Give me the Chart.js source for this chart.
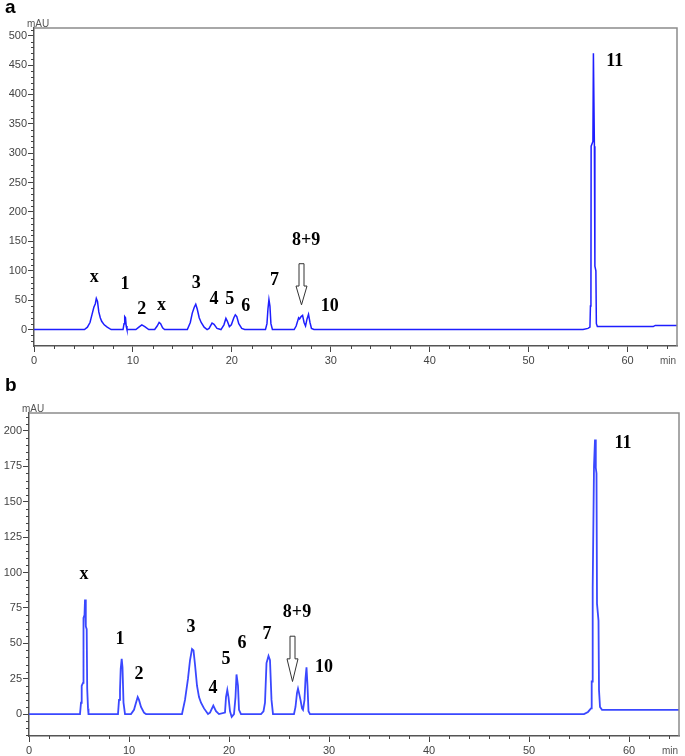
<!DOCTYPE html>
<html>
<head>
<meta charset="utf-8">
<script src="https://cdn.jsdelivr.net/npm/chart.js@4.4.1/dist/chart.umd.min.js"></script>
<style>
  body { margin: 0; background: #fff; }
  .panel { position: absolute; left: 0; width: 685px; }
  .tag { position: absolute; left: 5px; font: bold 19px "Liberation Sans", Arial, sans-serif; color: #000; }
</style>
</head>
<body>
<div class="panel" style="top:0;height:370px"><canvas id="chartA"></canvas></div>
<div class="panel" style="top:370px;height:386px"><canvas id="chartB"></canvas></div>
<div class="tag" style="top:-4px">a</div>
<div class="tag" style="top:374px">b</div>
<script>
// --- panel a : retention time (min) / absorbance (mAU)
const timeA = [0, 5.1, 5.4, 5.66, 5.9, 6.05, 6.2, 6.3, 6.42, 6.55, 6.7, 6.84, 7.1, 7.4, 7.8,
  9.0, 9.1, 9.17, 9.25, 9.32, 9.4, 10.3, 10.6, 10.9, 11.2, 11.6,
  12.2, 12.45, 12.65, 12.8, 13.0, 13.2, 15.5, 15.8, 16.0, 16.2, 16.35, 16.5, 16.7, 16.9, 17.2, 17.5,
  17.7, 18.0, 18.2, 18.5, 18.9, 19.2, 19.4, 19.55, 19.75, 19.95, 20.2, 20.35, 20.5, 20.7, 21.0, 21.3,
  23.4, 23.55, 23.65, 23.75, 23.85, 23.95, 24.1, 26.3, 26.5, 26.75, 26.85, 27.0, 27.15, 27.3, 27.45,
  27.6, 27.75, 27.9, 28.05, 28.3, 55.5, 56.0, 56.2, 56.25, 56.3, 56.32, 56.5, 56.55, 56.6, 56.65,
  56.7, 56.8, 56.85, 56.95, 62.6, 62.8, 65];
const signalA = [0, 0, 4, 12, 28, 38, 44, 53, 48, 30, 20, 14, 8, 4, 0,
  0, 10, 22, 20, 6, 0, 0, 4, 8, 5, 0,
  0, 6, 12, 10, 3, 0, 0, 12, 28, 38, 43, 35, 20, 12, 4, 0,
  2, 11, 9, 2, 0, 8, 19, 14, 5, 8, 20, 25, 22, 10, 2, 0,
  0, 10, 35, 51, 40, 10, 0, 0, 6, 20, 18, 22, 24, 12, 6,
  18, 26, 12, 2, 0, 0, 2, 4, 40, 60, 312, 320, 470, 470, 312,
  108, 100, 10, 5, 5, 7, 7];

// --- panel b
const timeB = [0, 5.1, 5.2, 5.27, 5.4, 5.45, 5.55, 5.6, 5.68, 5.77, 5.82, 5.9, 5.95,
  8.9, 9.0, 9.1, 9.17, 9.27, 9.35, 9.45, 9.6, 10.2, 10.5, 10.7, 10.87, 11.0, 11.2, 11.5, 11.7,
  15.3, 15.6, 15.9, 16.1, 16.3, 16.45, 16.6, 16.8, 17.0, 17.2, 17.5, 17.9, 18.1, 18.43, 18.7, 19.0,
  19.6, 19.7, 19.83, 19.95, 20.1, 20.27, 20.5, 20.65, 20.75, 20.9, 21.0, 21.2,
  23.2, 23.45, 23.6, 23.75, 23.95, 24.1, 24.25, 24.4, 26.5, 26.65, 26.8, 26.9, 27.0, 27.15, 27.3,
  27.4, 27.55, 27.65, 27.75, 27.85, 27.95, 28.1, 55.5, 55.9, 56.2, 56.27, 56.35, 56.37, 56.5,
  56.6, 56.68, 56.75, 56.8, 56.95, 57.0, 57.1, 57.3, 65];
const signalB = [0, 0, 8, 20, 22, 68, 70, 81, 62, 60, 18, 4, 0,
  0, 10, 17, 32, 39, 33, 8, 0, 0, 3, 8, 12, 10, 5, 1, 0,
  0, 10, 25, 38, 46, 45, 35, 20, 12, 8, 4, 0, 1, 6, 2, 0,
  1, 12, 17, 12, 2, -2, 0, 12, 28, 20, 3, 0,
  0, 2, 8, 36, 41, 38, 10, 0, 0, 5, 15, 18, 15, 10, 4,
  3, 10, 25, 33, 20, 2, 0, 0, 1.5, 4, 23, 23, 89, 175,
  194, 174, 170, 78, 66, 17, 5, 3, 3];

// peak labels: name, retention time, height where the label sits
const peakNamesA = ['x', '1', '2', 'x', '3', '4', '5', '6', '7', '8+9', '10', '11'];
const peakTimeA = [6.1, 9.2, 10.9, 12.9, 16.4, 18.2, 19.8, 21.4, 24.3, 27.5, 29.9, 58.7];
const peakLevelA = [88, 77, 34, 42, 79, 52, 51, 39, 84, 151, 39, 456];
const peakNamesB = ['x', '1', '2', '3', '4', '5', '6', '7', '8+9', '10', '11'];
const peakTimeB = [5.5, 9.1, 11.0, 16.2, 18.4, 19.7, 21.3, 23.8, 26.8, 29.5, 59.4];
const peakLevelB = [99, 53, 28, 61, 18, 39, 50, 56, 72, 33, 191];
// arrow marking 8+9: time, tail, neck, tip (mAU)
const arrowA = [27.0, 112, 74, 42];
const arrowB = [26.3, 55, 39, 23];

const isMajor = (v, step) => Math.abs(v / step - Math.round(v / step)) < 1e-6;

const chromPlugin = {
  id: 'chrom',
  afterDraw(chart, args, o) {
    const { ctx, chartArea: a, scales: { x, y } } = chart;
    ctx.save();
    // top / right frame
    ctx.strokeStyle = '#8c8c8c';
    ctx.lineWidth = 1.5;
    ctx.beginPath();
    ctx.moveTo(a.left, a.top);
    ctx.lineTo(a.right, a.top);
    ctx.lineTo(a.right, a.bottom);
    ctx.stroke();
    // minor ticks
    ctx.strokeStyle = '#444';
    ctx.lineWidth = 1;
    ctx.beginPath();
    y.ticks.forEach(t => {
      if (isMajor(t.value, o.yMajor)) return;
      const py = Math.round(y.getPixelForValue(t.value)) + 0.5;
      ctx.moveTo(a.left - 3, py); ctx.lineTo(a.left, py);
    });
    x.ticks.forEach(t => {
      if (isMajor(t.value, 10)) return;
      const px = Math.round(x.getPixelForValue(t.value)) + 0.5;
      ctx.moveTo(px, a.bottom); ctx.lineTo(px, a.bottom + 3);
    });
    ctx.stroke();
    // units
    ctx.fillStyle = '#555';
    ctx.font = '10px "Liberation Sans", Arial, sans-serif';
    ctx.textAlign = 'left';
    ctx.textBaseline = 'bottom';
    ctx.fillText('mAU', a.left - 7, a.top + 1);
    ctx.textBaseline = 'top';
    ctx.fillText('min', a.right - 17, a.bottom + 10);
    // peak labels
    ctx.fillStyle = '#000';
    ctx.font = 'bold 18px "Liberation Serif", "Times New Roman", serif';
    ctx.textAlign = 'center';
    ctx.textBaseline = 'middle';
    o.names.forEach((n, i) => {
      ctx.fillText(n, x.getPixelForValue(o.times[i]), y.getPixelForValue(o.levels[i]));
    });
    // arrow
    const ax = Math.round(x.getPixelForValue(o.arrow[0])) + 0.5;
    const yTail = y.getPixelForValue(o.arrow[1]);
    const yNeck = y.getPixelForValue(o.arrow[2]);
    const yTip = y.getPixelForValue(o.arrow[3]);
    ctx.beginPath();
    ctx.moveTo(ax - 2.5, yTail);
    ctx.lineTo(ax + 2.5, yTail);
    ctx.lineTo(ax + 2.5, yNeck);
    ctx.lineTo(ax + 5.5, yNeck);
    ctx.lineTo(ax, yTip);
    ctx.lineTo(ax - 5.5, yNeck);
    ctx.lineTo(ax - 2.5, yNeck);
    ctx.closePath();
    ctx.fillStyle = '#fff';
    ctx.fill();
    ctx.strokeStyle = '#333';
    ctx.stroke();
    ctx.restore();
  }
};

function makePanel(id, p) {
  const tickFont = { family: '"Liberation Sans", Arial, sans-serif', size: 11 };
  return new Chart(document.getElementById(id), {
    type: 'line',
    data: {
      datasets: [{
        data: p.time.map((t, i) => ({ x: t, y: p.signal[i] })),
        borderColor: p.color,
        borderWidth: p.width,
        pointRadius: 0,
        tension: 0,
        fill: false
      }]
    },
    options: {
      animation: false,
      responsive: true,
      maintainAspectRatio: false,
      layout: { padding: { top: p.top, right: p.right, left: 0, bottom: 0 } },
      plugins: {
        legend: { display: false },
        tooltip: { enabled: false },
        chrom: { yMajor: p.yMajor, names: p.names, times: p.times, levels: p.levels, arrow: p.arrow }
      },
      scales: {
        x: {
          type: 'linear',
          min: 0,
          max: 65,
          afterBuildTicks: s => {
            const ticks = [];
            for (let v = 0; v <= 64; v += 2) ticks.push({ value: v });
            s.ticks = ticks;
          },
          afterFit: s => { s.height = p.xHeight; },
          ticks: {
            autoSkip: false,
            maxRotation: 0,
            padding: 2,
            color: '#444',
            font: tickFont,
            callback: v => isMajor(v, 10) ? v : ''
          },
          grid: {
            drawOnChartArea: false,
            tickLength: 6,
            tickColor: c => isMajor(c.tick.value, 10) ? '#444' : 'rgba(0,0,0,0)'
          },
          border: { color: '#555', width: 1.5 }
        },
        y: {
          min: p.yMin,
          max: p.yMax,
          afterBuildTicks: s => {
            const ticks = [];
            for (let v = Math.ceil(p.yMin / p.yMinor) * p.yMinor; v <= p.yMax; v += p.yMinor) ticks.push({ value: v });
            s.ticks = ticks;
          },
          afterFit: s => { s.width = p.yWidth; },
          ticks: {
            autoSkip: false,
            padding: 1,
            color: '#444',
            font: tickFont,
            callback: v => (isMajor(v, p.yMajor) && v >= 0) ? v : ''
          },
          grid: {
            drawOnChartArea: false,
            tickLength: 6,
            tickColor: c => isMajor(c.tick.value, p.yMajor) ? '#444' : 'rgba(0,0,0,0)'
          },
          border: { color: '#555', width: 1.5 }
        }
      }
    },
    plugins: [chromPlugin]
  });
}

makePanel('chartA', {
  time: timeA, signal: signalA, color: '#1e1eff', width: 1.5,
  top: 28, right: 8, xHeight: 24, yWidth: 34,
  yMin: -28, yMax: 513, yMinor: 10, yMajor: 50,
  names: peakNamesA, times: peakTimeA, levels: peakLevelA, arrow: arrowA
});
makePanel('chartB', {
  time: timeB, signal: signalB, color: '#3a48ff', width: 1.8,
  top: 43, right: 6, xHeight: 20, yWidth: 29,
  yMin: -15.5, yMax: 212.7, yMinor: 5, yMajor: 25,
  names: peakNamesB, times: peakTimeB, levels: peakLevelB, arrow: arrowB
});
</script>
</body>
</html>
